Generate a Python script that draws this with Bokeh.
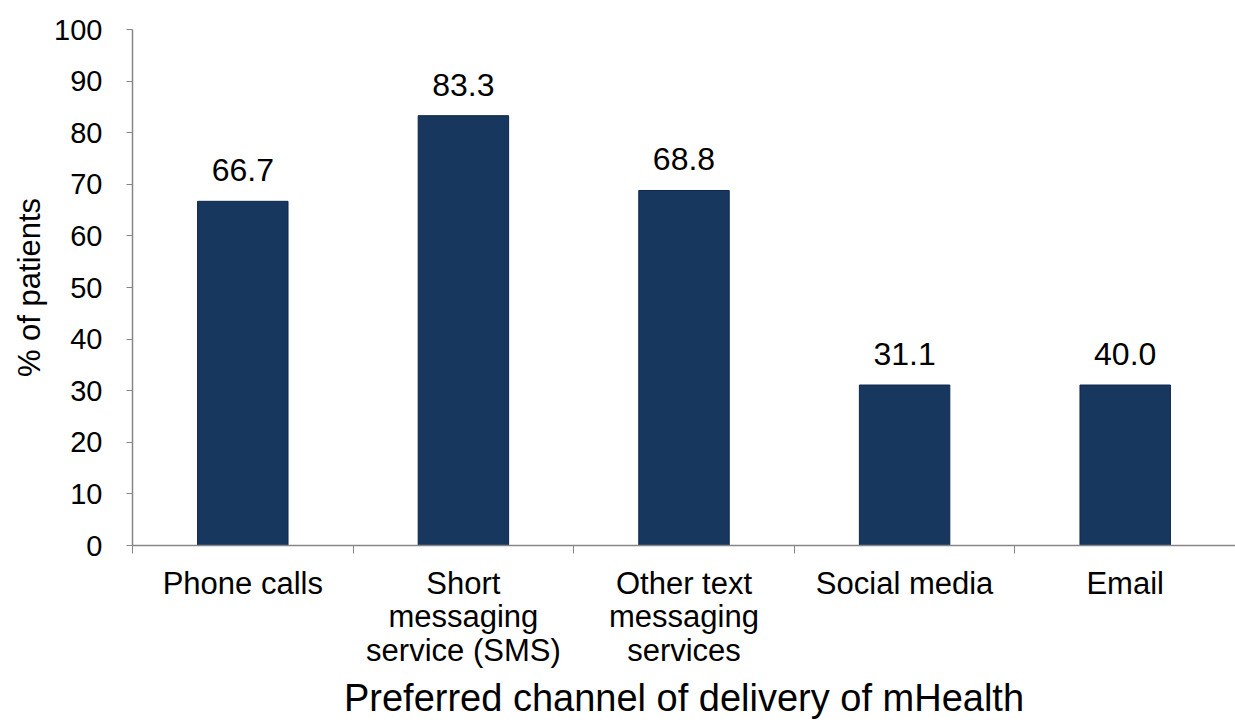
from bokeh.plotting import figure
from bokeh.models import ColumnDataSource, FixedTicker, Range1d
from bokeh.core.properties import value
from bokeh.embed import file_html
from bokeh.resources import INLINE

categories = ["Phone calls", "Short\nmessaging\nservice (SMS)", "Other text\nmessaging\nservices",
              "Social media", "Email"]
bar_values = [66.7, 83.3, 68.8, 31.1, 31.1]
bar_labels = ["66.7", "83.3", "68.8", "31.1", "40.0"]
y_ticks = [0, 10, 20, 30, 40, 50, 60, 70, 80, 90, 100]

FONT = "Liberation Sans"
BAR = "#17375E"
AXIS = "#868686"

xs = [i + 0.5 for i in range(len(categories))]
src = ColumnDataSource(dict(x=xs, top=bar_values, label=bar_labels))

p = figure(width=1235, height=722, output_backend="svg", toolbar_location=None,
           x_range=Range1d(0, len(categories)), y_range=Range1d(0, 100),
           min_border_left=132, min_border_top=29, min_border_right=0,
           min_border_bottom=177)
p.frame_width = 1103
p.frame_height = 516

p.vbar(x="x", top="top", width=0.41, bottom=0, source=src,
       fill_color=BAR, line_color="#0f2747", line_width=1)
p.text(x="x", y="top", text="label", source=src, text_align="center",
       text_baseline="alphabetic", y_offset=-31,
       text_font=value(FONT), text_font_size="32px", text_color="#000000")

p.outline_line_color = None
p.xgrid.grid_line_color = None
p.ygrid.grid_line_color = None
p.background_fill_color = "white"
p.border_fill_color = "white"

xa = p.xaxis[0]
xa.ticker = FixedTicker(ticks=xs, minor_ticks=list(range(len(categories) + 1)))
xa.major_label_overrides = {x: c for x, c in zip(xs, categories)}
xa.major_tick_out = 0
xa.major_tick_in = 0
xa.minor_tick_out = 8
xa.minor_tick_in = 0
xa.minor_tick_line_color = AXIS
xa.axis_line_color = AXIS
xa.axis_line_width = 1.5
xa.major_label_standoff = 12
xa.major_label_text_font = FONT
xa.major_label_text_font_size = "31px"
xa.major_label_text_line_height = 0.97
xa.major_label_text_color = "#000000"
xa.axis_label = "Preferred channel of delivery of mHealth"
xa.axis_label_text_font = FONT
xa.axis_label_text_font_size = "38px"
xa.axis_label_text_font_style = "normal"
xa.axis_label_text_color = "#000000"
xa.axis_label_standoff = 6

ya = p.yaxis[0]
ya.ticker = FixedTicker(ticks=y_ticks, minor_ticks=[])
ya.major_tick_out = 6
ya.major_tick_in = 0
ya.major_tick_line_color = AXIS
ya.axis_line_color = AXIS
ya.axis_line_width = 1.5
ya.major_label_standoff = 24
ya.major_label_text_font = FONT
ya.major_label_text_font_size = "29px"
ya.major_label_text_color = "#000000"
ya.axis_label = "% of patients"
ya.axis_label_text_font = FONT
ya.axis_label_text_font_size = "31px"
ya.axis_label_text_font_style = "normal"
ya.axis_label_text_color = "#000000"
ya.axis_label_standoff = 4

open("out.html", "w").write(file_html(p, INLINE))
